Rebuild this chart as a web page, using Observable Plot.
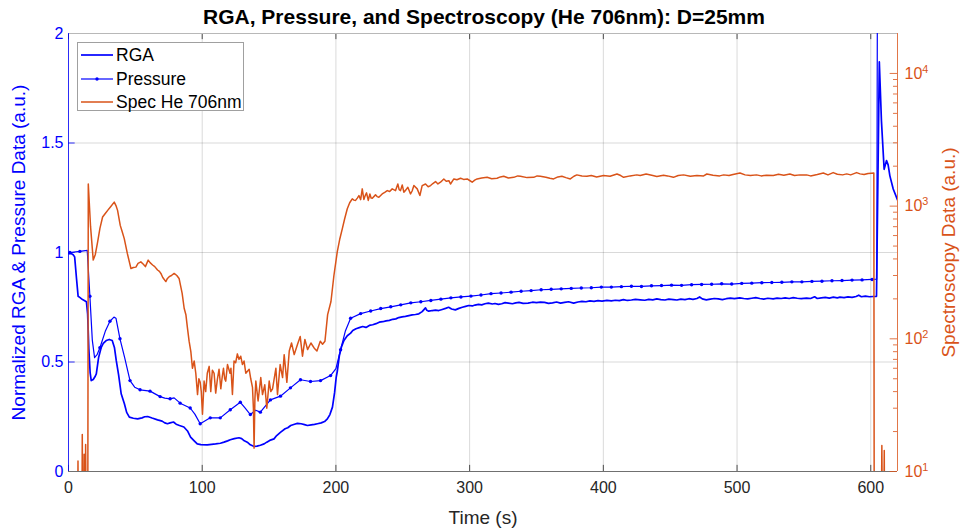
<!DOCTYPE html>
<html>
<head>
<meta charset="utf-8">
<script src="https://cdn.jsdelivr.net/npm/d3@7"></script>
<script src="https://cdn.jsdelivr.net/npm/@observablehq/plot@0.6"></script>
<style>
  html, body { margin: 0; padding: 0; background: #fff; }
  #wrap { position: relative; width: 968px; height: 530px; font-family: "Liberation Sans", Arial, Helvetica, sans-serif; }
  #wrap > svg { position: absolute; left: 0; top: 0; }
  #title { position: absolute; left: 0; top: 4px; width: 968px; text-align: center; font-weight: bold; font-size: 21px; line-height: 26px; color: #000; }
  #legend { position: absolute; left: 77px; top: 42px; width: 167px; height: 69px; background: #fff; border: 1px solid #a0a0a0; box-sizing: border-box; }
  .row { position: absolute; left: 0; height: 22px; width: 165px; }
  .row svg { position: absolute; left: 2px; top: 5px; }
  .row span { position: absolute; left: 38px; top: 0; font-size: 17.5px; line-height: 22px; color: #000; }
</style>
</head>
<body>
<div id="wrap">
  <div id="title"></div>
</div>
<script>
// ---------- data ----------
const xTicks = [0, 100, 200, 300, 400, 500, 600];
const leftTicks = [0, 0.5, 1, 1.5, 2];
const rightTicks = [10, 100, 1000, 10000];
const rightMinor = [20,30,40,50,60,70,80,90,200,300,400,500,600,700,800,900,2000,3000,4000,5000,6000,7000,8000,9000];

const seriesNames = ["RGA", "Pressure", "Spec He 706nm"];
const titleText = "RGA, Pressure, and Spectroscopy (He 706nm): D=25mm";
const xLabel = "Time (s)";
const leftLabel = "Normalized RGA & Pressure Data (a.u.)";
const rightLabel = "Spectroscopy Data (a.u.)";

const rgaT = [0,2,3.5,4.6,6,7.2,8.4,10.5,12.1,13.4,14.3,15.2,16.2,17,18.5,20,20.8,22.5,24.5,26,28.2,30.5,32.7,34.4,35.7,37.5,39.4,41.8,43.5,45.5,48.5,51.7,55,57,59.2,62.5,66.6,70,72,74,76,78.5,80.5,83,86.3,89,91.3,94,96.3,99,103.7,107,110,113.6,116.3,119,121,124,127.5,129.5,131.5,133.7,136,138.8,141,143.5,146.3,148.3,150.5,153.7,155.7,158.7,162,164,166.2,169,171.2,174,176.5,178.7,181.5,184,186.2,189,191.5,193.6,195.5,197.4,199,200.2,201.1,202.6,204.2,206,208.5,211,212.6,215,217.5,220,222.5,225,227.5,230,232.4,235,237.5,240,242.5,244.8,247,249.5,252,254.6,257,259.5,262,264.5,267,268,269.4,272,274.5,276.9,279.5,282,284.3,286.5,289.3,292,294.5,297,299.3,302,304,306.6,309,311.5,314,317,319,321.5,324,326.5,329,332,334.5,337,340,343.7,347,350,352.9,356,359,362,365,368,371,374,377.8,381,384,387,390,393,396,399,402.7,406,409,412,415,418,421,424,427.6,431,434,437,440,443,446,449,452.4,455,458,461,464,467,470,472,474,477,480,483,486,489,492,495,498,502,505,508,511,514,517,520,523,527,530,533,536,539,542,545,548,552,555,558,560,563,566,569,572,575,577,580,583,586,589,591,593,596,599,601.8,604.3,606.4,608,610,611.8,613,614.3,616.8,620];
const rgaV = [0.995,0.995,0.99,0.98,0.88,0.80,0.795,0.785,0.78,0.775,0.72,0.56,0.45,0.415,0.42,0.435,0.446,0.52,0.567,0.585,0.598,0.603,0.598,0.565,0.507,0.44,0.355,0.309,0.27,0.248,0.243,0.24,0.245,0.25,0.251,0.244,0.236,0.23,0.222,0.218,0.222,0.226,0.216,0.21,0.203,0.185,0.157,0.14,0.126,0.123,0.122,0.124,0.126,0.129,0.134,0.14,0.145,0.15,0.154,0.15,0.14,0.134,0.122,0.114,0.116,0.12,0.126,0.134,0.142,0.149,0.164,0.18,0.195,0.2,0.21,0.216,0.22,0.218,0.214,0.21,0.213,0.215,0.218,0.222,0.228,0.24,0.26,0.294,0.36,0.43,0.46,0.53,0.57,0.598,0.62,0.632,0.644,0.652,0.657,0.662,0.658,0.667,0.67,0.675,0.682,0.684,0.688,0.69,0.695,0.697,0.703,0.706,0.708,0.712,0.715,0.717,0.72,0.73,0.747,0.736,0.732,0.735,0.737,0.735,0.74,0.745,0.75,0.742,0.738,0.745,0.75,0.754,0.758,0.756,0.76,0.763,0.761,0.766,0.769,0.765,0.767,0.763,0.766,0.771,0.769,0.766,0.77,0.772,0.768,0.769,0.773,0.771,0.773,0.772,0.768,0.77,0.774,0.769,0.772,0.775,0.769,0.774,0.777,0.775,0.779,0.777,0.78,0.778,0.781,0.779,0.782,0.78,0.785,0.781,0.783,0.786,0.784,0.782,0.786,0.784,0.788,0.785,0.783,0.787,0.785,0.783,0.787,0.785,0.789,0.786,0.79,0.797,0.788,0.784,0.787,0.79,0.788,0.785,0.789,0.792,0.789,0.793,0.79,0.788,0.791,0.794,0.79,0.787,0.791,0.788,0.792,0.79,0.793,0.79,0.794,0.791,0.789,0.792,0.79,0.798,0.79,0.793,0.795,0.792,0.796,0.793,0.796,0.794,0.797,0.795,0.799,0.805,0.798,0.801,0.798,0.799,0.80,1.87,1.6,1.38,1.42,1.40,1.35,1.29,1.24];

const presT = [1,8.5,14,16,17.8,19.5,21.5,23.5,27.5,31,34,35.5,38.5,42,46,49.5,53.5,61,68.5,72,76,79,83.5,91,94.5,98.5,106,113.5,121,128.5,132,136,140,143.5,151,158.5,166,173.5,181,188.5,196,200,203.5,207,211,218.5,226,233.5,241,248.5,256,263.5,271,278.5,286,293.5,301,308.5,316,323.5,331,338.5,346,353.5,361,368.5,376,383.5,391,398.5,406,413.5,421,428.5,436,443.5,451,458.5,466,473.5,481,488.5,496,503.5,511,518.5,526,533.5,541,548.5,556,563.5,571,578.5,586,593.5,601,604.5,605.6];
const presV = [1.00,1.005,1.01,0.80,0.60,0.52,0.535,0.565,0.64,0.686,0.705,0.70,0.606,0.52,0.415,0.385,0.373,0.367,0.342,0.335,0.332,0.336,0.312,0.29,0.262,0.218,0.245,0.245,0.282,0.316,0.29,0.26,0.28,0.271,0.327,0.344,0.382,0.419,0.411,0.415,0.438,0.47,0.556,0.64,0.70,0.721,0.733,0.744,0.752,0.761,0.77,0.775,0.781,0.787,0.793,0.797,0.801,0.806,0.812,0.815,0.819,0.823,0.826,0.83,0.832,0.834,0.836,0.838,0.839,0.842,0.842,0.844,0.846,0.845,0.848,0.849,0.851,0.85,0.853,0.854,0.855,0.857,0.856,0.859,0.86,0.862,0.863,0.864,0.866,0.866,0.868,0.869,0.871,0.872,0.874,0.875,0.877,0.878,4.0];

const specT = [0,6.8,7.1,7.4,10,10.3,10.8,11.4,11.7,12.1,12.5,12.8,13.3,14.4,14.8,16.5,18.5,20,21.8,23.5,25.5,27.5,29.3,31.5,34.2,35.5,36.7,38.7,40,41.7,44,46.7,48.5,50.4,52,54.1,56,57.5,59.6,61,62.9,64.5,66.6,68,69.1,70.5,72.8,74,75.3,77,79,81,82.7,85,86.5,87.8,89,90.2,91.5,92.7,94,95.2,96.5,97.5,98.5,99.3,100.2,101.4,102.6,103.8,105.2,106.4,107.6,108.9,110.1,111.4,112.6,113.9,115,115.9,116.8,117.6,118.9,120.8,121.5,122.6,123.8,125,126.3,127.5,128.8,130.1,131.3,132.6,135.1,136.3,137.6,138.3,138.8,139.4,140.1,141.8,143.8,145.1,146.8,148.3,150.1,151.3,152.6,155.1,156.3,158.3,160.1,161.3,163.3,165.1,166.8,168.8,171.3,173.3,175,176.8,178.8,181.3,183.8,185.8,188.3,190,191.8,193.8,196.3,198.5,201,202.8,204.8,206.5,208.5,210.3,212.2,213.5,214.7,216,217.2,218.5,219.7,220.9,221.9,222.9,224.2,225.4,226.3,227.2,229.6,230.8,232.1,234.6,236.5,238.4,240.2,242.1,244.6,246.3,247.3,248.3,249.6,250.8,252.2,253.8,255.8,257,258.3,260.8,262.8,264.5,267,269,270.8,272.5,274.5,276.3,278.2,280.7,282.5,284.5,285.7,288.2,290.5,293.2,295.5,298.2,300,301.9,303.8,305.6,309,313.1,316.5,320.5,323,325.5,329,333,336,338,343,347.9,350.5,352.9,357,360,362.8,366,369,372,375.3,378,380.2,384,387.7,391,395,400.2,405,410.2,413,415.2,420,425,427.6,432,437,440,445,448,452.4,456,460,465,470,475,477.4,482,487,490,494,497,502.2,506,510,514.6,518,522,527.1,531,535,539.5,543,547,552,555,560,564.5,568,571.9,575,579,582,585,589.4,592,595,598,600.5,602.3,602.6,607.8,608.3,608.8,609.6,610.1,610.4,620];
const specV = [3,3,12,3,3,19,3,3,13.5,3,3,16,3,3,1470,700,392,430,537,680,828,880,929,990,1072,1010,929,716,650,569,440,339,345,347,370,380,365,350,392,375,360,350,330,322,311,290,270,285,294,300,311,300,285,220,170,152,120,96,80,60,68,55,38,50,47,40,27,48,40,55,62,40,58,55,39,50,59,42,52,60,50,48,64,55,60,38,68,66,77,70,74,64,68,55,59,50,43,30,15,35,48,34,51,38,45,30,48,40,42,60,38,64,51,76,47,81,93,76,91,104,74,99,83,93,85,81,96,91,96,152,191,300,452,560,676,800,955,1060,1135,1110,1104,1150,1202,1120,1349,1122,1200,1259,1104,1236,1150,1148,1216,1180,1167,1236,1270,1309,1290,1349,1309,1469,1330,1309,1445,1274,1320,1387,1236,1300,1429,1349,1202,1429,1469,1400,1429,1480,1531,1470,1514,1603,1540,1556,1469,1603,1580,1622,1590,1603,1560,1514,1570,1603,1630,1648,1610,1622,1660,1679,1630,1648,1690,1679,1640,1648,1690,1679,1650,1620,1603,1660,1679,1640,1603,1680,1720,1690,1679,1700,1660,1700,1680,1746,1700,1648,1690,1720,1700,1746,1700,1670,1710,1690,1648,1700,1720,1679,1700,1690,1746,1710,1690,1720,1700,1730,1778,1720,1700,1720,1690,1710,1700,1740,1710,1746,1700,1720,1720,1690,1730,1778,1720,1790,1740,1720,1750,1720,1790,1750,1730,1760,1770,1778,3,3,15.7,3,3,14.4,3,3];

// ---------- build tables ----------
const rga = rgaT.map((t, i) => ({t, v: rgaV[i]}));
const pressure = presT.map((t, i) => ({t, v: presV[i]}));
const spec = specT.map((t, i) => ({t, v: specV[i]}));

const BLUE = "#0000ff";
const ORANGE = "#D95319";
const AX = "#262626";
const FONT = '"Liberation Sans", Arial, Helvetica, sans-serif';
const W = 968, H = 530;
const M = {marginLeft: 68, marginRight: 71, marginTop: 33, marginBottom: 59};
const isMarker = d => Number.isInteger((d.t - 1) / 7.5);

const left = Plot.plot({
  width: W, height: H, ...M,
  style: {background: "transparent", fontFamily: FONT, fontSize: "16px", overflow: "visible"},
  x: {domain: [0, 620]},
  y: {domain: [0, 2]},
  marks: [
    Plot.gridX(xTicks, {stroke: "#000", strokeOpacity: 0.15}),
    Plot.gridY(leftTicks, {stroke: "#000", strokeOpacity: 0.15}),
    Plot.axisX(xTicks, {tickSize: 0, tickPadding: 10, color: AX, label: null, tickFormat: d => String(d), fontSize: 16}),
    Plot.axisY(leftTicks, {tickSize: 0, tickPadding: 5, color: BLUE, label: null, tickFormat: d => String(d), fontSize: 16}),
    Plot.ruleX(xTicks, {y1: 0, y2: 0.028, stroke: AX, strokeWidth: 0.8}),
    Plot.ruleX(xTicks, {y1: 2, y2: 1.972, stroke: AX, strokeWidth: 0.8}),
    Plot.ruleY(leftTicks, {x1: 0, x2: 5, stroke: BLUE, strokeWidth: 0.8}),
    Plot.ruleY([0], {stroke: "#707070"}),
    Plot.ruleY([2], {stroke: "#b8b8b8"}),
    Plot.ruleX([0], {stroke: BLUE, strokeWidth: 0.8}),
    Plot.line(rga, {x: "t", y: "v", stroke: BLUE, strokeWidth: 1.7, clip: true}),
    Plot.line(pressure, {x: "t", y: "v", stroke: BLUE, strokeWidth: 1.2, clip: true}),
    Plot.dot(pressure, {filter: isMarker, x: "t", y: "v", r: 1.7, fill: BLUE, stroke: null, clip: true}),
    Plot.text([leftLabel], {frameAnchor: "left", dx: -50, rotate: -90, fill: BLUE, fontSize: 19, textAnchor: "middle", lineAnchor: "middle"}),
    Plot.text([xLabel], {frameAnchor: "bottom", dy: 46, fill: AX, fontSize: 19, textAnchor: "middle", lineAnchor: "middle"})
  ]
});

const right = Plot.plot({
  width: W, height: H, ...M,
  style: {background: "transparent", fontFamily: FONT, fontSize: "16px", overflow: "visible"},
  x: {domain: [0, 620], axis: null},
  y: {type: "log", domain: [10, 20000]},
  marks: [
    Plot.axisY(rightTicks, {anchor: "right", tickSize: 0, tickPadding: 7, color: ORANGE, label: null, tickFormat: d => String(d), fontSize: 16}),
    Plot.ruleY(rightTicks, {x1: 620, x2: 614.5, stroke: ORANGE, strokeWidth: 0.8}),
    Plot.ruleY(rightMinor, {x1: 620, x2: 617, stroke: ORANGE, strokeWidth: 0.8}),
    Plot.ruleX([620], {stroke: ORANGE, strokeWidth: 0.8}),
    Plot.line(spec, {x: "t", y: "v", stroke: ORANGE, strokeWidth: 1.5, clip: true}),
    Plot.text([rightLabel], {frameAnchor: "right", dx: 51, rotate: -90, fill: ORANGE, fontSize: 19, textAnchor: "middle", lineAnchor: "middle"})
  ]
});

// superscript exponents on the log axis tick labels
right.querySelectorAll('g[aria-label="y-axis tick label"] text').forEach(el => {
  const v = +el.textContent;
  const e = Math.round(Math.log10(v));
  el.textContent = "10";
  const ts = document.createElementNS("http://www.w3.org/2000/svg", "tspan");
  ts.setAttribute("dy", "-0.55em");
  ts.setAttribute("font-size", "0.68em");
  ts.textContent = String(e);
  el.appendChild(ts);
});

const wrap = document.getElementById("wrap");
document.getElementById("title").textContent = titleText;
wrap.appendChild(left);
wrap.appendChild(right);

// legend
const legend = document.createElement("div");
legend.id = "legend";
const rowsTop = [1, 24.5, 48];
seriesNames.forEach((name, i) => {
  const row = document.createElement("div");
  row.className = "row";
  row.style.top = rowsTop[i] + "px";
  const col = i === 2 ? ORANGE : BLUE;
  const sw = i === 0 ? 1.7 : (i === 1 ? 1.2 : 1.5);
  let svg = `<svg width="34" height="12"><line x1="1" y1="6" x2="33" y2="6" stroke="${col}" stroke-width="${sw}"/>`;
  if (i === 1) svg += `<circle cx="17" cy="6" r="1.7" fill="${col}"/>`;
  svg += `</svg>`;
  row.innerHTML = svg + `<span>${name}</span>`;
  legend.appendChild(row);
});
wrap.appendChild(legend);
</script>
</body>
</html>
